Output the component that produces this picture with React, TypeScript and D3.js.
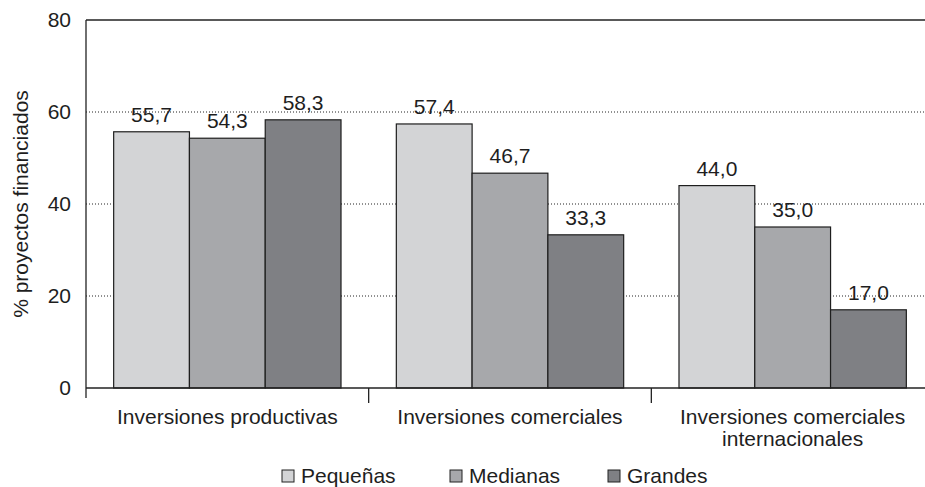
import React from 'react';
import * as d3 from 'd3';

// categories and series
const categories = ['Inversiones productivas', 'Inversiones comerciales', 'Inversiones comerciales internacionales'];
const categoryLines = [['Inversiones productivas'], ['Inversiones comerciales'], ['Inversiones comerciales', 'internacionales']];
const seriesNames = ['Pequeñas', 'Medianas', 'Grandes'];
const pequenas = [55.7, 57.4, 44.0];
const medianas = [54.3, 46.7, 35.0];
const grandes = [58.3, 33.3, 17.0];
const yTicks = [0, 20, 40, 60, 80];

function App() {
    const w = 925,
        h = 487;
    const margin = { top: 20, left: 86, bottom: 99, right: -9 };
    const x0 = margin.left,
        x1 = w - margin.right,
        yTop = margin.top,
        yBottom = h - margin.bottom;

    const seriesValues = [pequenas, medianas, grandes];
    const colors = ['#d3d4d6', '#a7a8ab', '#7f8084'];
    const font = 'Liberation Sans, Arial, sans-serif';
    const fs = 21;

    const x = d3.scaleBand().domain(categories).range([x0, x1]).padding(0);
    const xInner = d3.scaleBand().domain(seriesNames).range([0, x.bandwidth()]).paddingInner(0).paddingOuter(0.365);
    const y = d3.scaleLinear().domain([0, 80]).range([yBottom, yTop]);
    const fmt = (v: number) => v.toFixed(1).replace('.', ',');

    const legendX = [282, 450, 608];

    return (
        <div style={{ position: 'absolute', left: 0, top: 0 }}>
            <svg width={w} height={h} style={{ display: 'block', background: '#fff' }} fontFamily={font}>
                {/* dotted grid lines */}
                {yTicks.filter(t => t > 0 && t < 80).map(t => (
                    <line key={t} x1={x0} x2={w} y1={y(t)} y2={y(t)} stroke="#222" strokeWidth={1} strokeDasharray="1,2" />
                ))}
                {/* top border */}
                <line x1={x0} x2={w} y1={y(80)} y2={y(80)} stroke="#222" strokeWidth={1.3} />
                {/* bars */}
                {categories.map((c, ci) => (
                    <g key={c} transform={`translate(${x(c)},0)`}>
                        {seriesNames.map((s, si) => {
                            const v = seriesValues[si][ci];
                            return (
                                <g key={s}>
                                    <rect
                                        x={xInner(s)}
                                        y={y(v)}
                                        width={xInner.bandwidth()}
                                        height={y(0) - y(v)}
                                        fill={colors[si]}
                                        stroke="#1e1e1e"
                                        strokeWidth={1.2}
                                    />
                                    <text
                                        x={(xInner(s) as number) + xInner.bandwidth() / 2}
                                        y={y(v) - 10}
                                        textAnchor="middle"
                                        fontSize={fs}
                                        fill="#1e1e1e"
                                    >{fmt(v)}</text>
                                </g>
                            );
                        })}
                    </g>
                ))}
                {/* y axis */}
                <line x1={x0} x2={x0} y1={y(80)} y2={y(0) + 10} stroke="#222" strokeWidth={1.3} />
                {yTicks.map(t => (
                    <text key={t} x={x0 - 15} y={y(t)} dy="0.35em" textAnchor="end" fontSize={fs} fill="#1e1e1e">{t}</text>
                ))}
                <text transform={`translate(28,${(y(80) + y(0)) / 2}) rotate(-90)`} textAnchor="middle" fontSize={fs} fill="#1e1e1e">% proyectos financiados</text>
                {/* x axis */}
                <line x1={x0} x2={w} y1={y(0)} y2={y(0)} stroke="#222" strokeWidth={1.6} />
                {categories.map((c, ci) => (
                    <g key={c}>
                        {ci > 0 && <line x1={x(c)} x2={x(c)} y1={y(0)} y2={y(0) + 15} stroke="#222" strokeWidth={1.3} />}
                        {categoryLines[ci].map((ln, li) => (
                            <text key={li} x={(x(c) as number) + x.bandwidth() / 2} y={424 + li * 22} textAnchor="middle" fontSize={fs} fill="#1e1e1e">{ln}</text>
                        ))}
                    </g>
                ))}
                {/* legend */}
                {seriesNames.map((s, si) => (
                    <g key={s} transform={`translate(${legendX[si]},470)`}>
                        <rect x={0} y={0} width={12} height={12} fill={colors[si]} stroke="#222" strokeWidth={1} />
                        <text x={19} y={13} fontSize={fs} fill="#1e1e1e">{s}</text>
                    </g>
                ))}
            </svg>
        </div>
    );
}

export default App;
